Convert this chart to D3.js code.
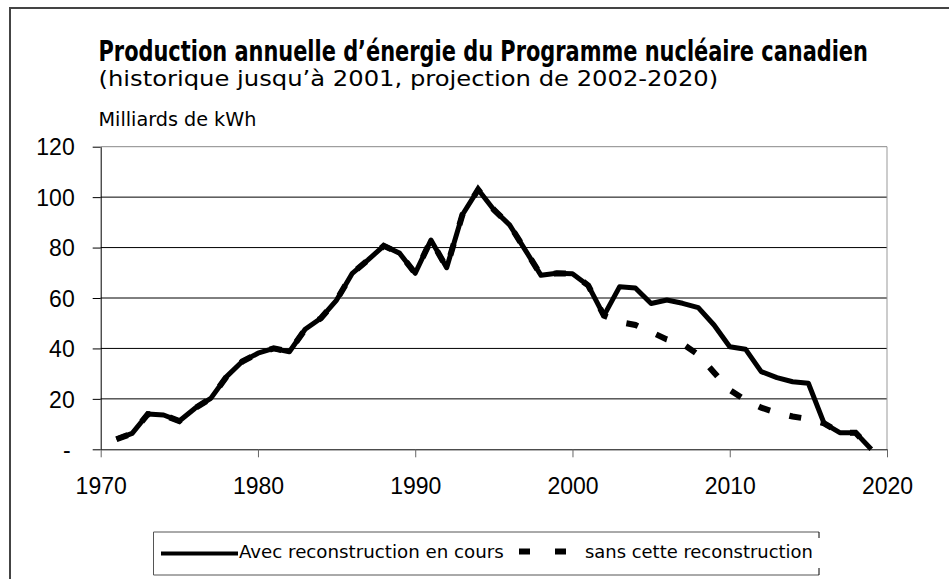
<!DOCTYPE html>
<html>
<head>
<meta charset="utf-8">
<script src="https://cdn.jsdelivr.net/npm/d3@7"></script>
<style>
  html, body { margin: 0; padding: 0; background: #fff; }
  svg { display: block; }
</style>
</head>
<body>
<script>
// ---- Data ----
const years = [1971,1972,1973,1974,1975,1976,1977,1978,1979,1980,
               1981,1982,1983,1984,1985,1986,1987,1988,1989,1990,
               1991,1992,1993,1994,1995,1996,1997,1998,1999,2000,
               2001,2002,2003,2004,2005,2006,2007,2008,2009,2010,
               2011,2012,2013,2014,2015,2016,2017,2018,2019];
const avecReconstruction = [4,6.3,14,13.6,11.2,16.3,20.2,28.8,34.8,38.1,
                            40,38.7,47.6,52,59.2,69.8,75.1,80.7,77.8,69.8,
                            83,72,93,103,95,89,79,69,69.8,69.6,
                            65,53,64.5,64,57.8,59.2,57.9,56.2,49.3,40.7,
                            39.7,30.8,28.4,26.8,26.2,10.3,6.6,6.6,0];
const sansReconstruction = [4,6.3,14,13.6,11.2,16.3,20.2,28.8,34.8,38.1,
                            40,38.7,47.6,52,59.2,69.8,75.1,80.7,77.8,69.8,
                            83,72,93,103,95,89,79,69,69.8,69.6,
                            65,53,50.5,49.3,46.5,43.6,41.8,37.5,30.5,23.5,
                            19.5,16.5,14.5,13,12,10.3,6.6,6.6,0];
const seriesNames = ["Avec reconstruction en cours", "sans cette reconstruction"];
const xTicks = [1970,1980,1990,2000,2010,2020];
const yTicks = [0,20,40,60,80,100,120];
const titleText = "Production annuelle d\u2019énergie du Programme nucléaire canadien";
const subtitleText = "(historique jusqu\u2019à 2001, projection de 2002-2020)";
const unitText = "Milliards de kWh";

// ---- Setup ----
const W = 949, H = 579;
const narrow = "'Liberation Sans Narrow','Arial Narrow','DejaVu Sans Condensed',sans-serif";
const regular = "'Liberation Sans',Arial,sans-serif";

const svg = d3.select("body").append("svg").attr("width", W).attr("height", H);

// outer frame (open on right/bottom as in reference)
svg.append("path")
  .attr("d", `M10,${H} L10,8 L${W},8`)
  .attr("fill", "none").attr("stroke", "#444").attr("stroke-width", 2);

const x = d3.scaleLinear().domain([1970, 2020]).range([100.7, 887]);
const y = d3.scaleLinear().domain([0, 120]).range([449.3, 146.7]);

// text fitted to a target width by horizontal scaling (keeps glyph height)
function fittedText(parent, tx, ty, width, size, weight, str) {
  const g = parent.append("g").attr("transform", `translate(${tx},${ty})`);
  const t = g.append("text").attr("x", 0).attr("y", 0)
    .attr("font-family", narrow).attr("font-size", size)
    .attr("font-weight", weight).text(str);
  const natural = t.node().getComputedTextLength();
  g.attr("transform", `translate(${tx},${ty}) scale(${width / natural},1)`);
  return t;
}

// titles
fittedText(svg, 98.5, 61, 770, 29, "bold", titleText);
fittedText(svg, 98.5, 86, 620, 22, "normal", subtitleText);
fittedText(svg, 98.5, 126, 158, 19, "normal", unitText);

// gridlines
svg.append("g").selectAll("line").data(yTicks.filter(d => d > 0)).join("line")
  .attr("x1", x(1970)).attr("x2", x(2020))
  .attr("y1", d => y(d)).attr("y2", d => y(d))
  .attr("stroke", d => d === 120 ? "#888" : "#000").attr("stroke-width", 1);

// right border of plot
svg.append("line").attr("x1", x(2020)).attr("x2", x(2020))
  .attr("y1", y(120)).attr("y2", y(0)).attr("stroke", "#999").attr("stroke-width", 1);

// axes
const xAxis = d3.axisBottom(x).tickValues(xTicks).tickFormat(d3.format("d"))
  .tickSizeInner(8).tickSizeOuter(0).tickPadding(20);
const gx = svg.append("g").attr("transform", `translate(0,${y(0)})`).call(xAxis);
gx.select(".domain").attr("stroke", "#000");
gx.selectAll(".tick line").attr("stroke", "#666");
gx.selectAll("text").attr("font-family", regular).attr("font-size", 23).attr("fill", "#000");

const yAxis = d3.axisLeft(y).tickValues(yTicks)
  .tickFormat(d => d === 0 ? "-" : d).tickSizeInner(8).tickSizeOuter(0).tickPadding(18);
const gy = svg.append("g").attr("transform", `translate(${x(1970)},0)`).call(yAxis);
gy.select(".domain").attr("stroke", "#000");
gy.selectAll(".tick line").attr("stroke", "#000");
gy.selectAll("text").attr("font-family", regular).attr("font-size", 23).attr("fill", "#000")
  .attr("dy", "0.36em");
gy.selectAll(".tick").filter(d => d === 0).select("text").attr("x", -30);

// lines
const line = d3.line().x(d => x(d[0])).y(d => y(d[1]));
const avecPts = years.map((yr, i) => [yr, avecReconstruction[i]]);
const sansPts = years.map((yr, i) => [yr, sansReconstruction[i]]);

svg.append("path").datum(avecPts).attr("d", line)
  .attr("fill", "none").attr("stroke", "#000").attr("stroke-width", 5)
  .attr("stroke-linejoin", "round");
svg.append("path").datum(sansPts).attr("d", line)
  .attr("fill", "none").attr("stroke", "#000").attr("stroke-width", 6)
  .attr("stroke-dasharray", "12,20").attr("stroke-linejoin", "miter");

// legend
const lg = svg.append("g");
lg.append("path").attr("d", "M819,532 L153.5,532 L153.5,575 L819,575")
  .attr("fill", "none").attr("stroke", "#555").attr("stroke-width", 1);
lg.append("line").attr("x1", 819).attr("x2", 819).attr("y1", 532).attr("y2", 538)
  .attr("stroke", "#000").attr("stroke-width", 1);
lg.append("line").attr("x1", 819).attr("x2", 819).attr("y1", 568).attr("y2", 575)
  .attr("stroke", "#000").attr("stroke-width", 1);
lg.append("line").attr("x1", 161).attr("x2", 238).attr("y1", 553.5).attr("y2", 553.5)
  .attr("stroke", "#000").attr("stroke-width", 4);
fittedText(lg, 239, 558, 265, 18, "normal", seriesNames[0]);
lg.append("line").attr("x1", 519).attr("x2", 567).attr("y1", 551.5).attr("y2", 551.5)
  .attr("stroke", "#000").attr("stroke-width", 6).attr("stroke-dasharray", "11,25");
fittedText(lg, 585, 558, 228, 18, "normal", seriesNames[1]);
</script>
</body>
</html>
